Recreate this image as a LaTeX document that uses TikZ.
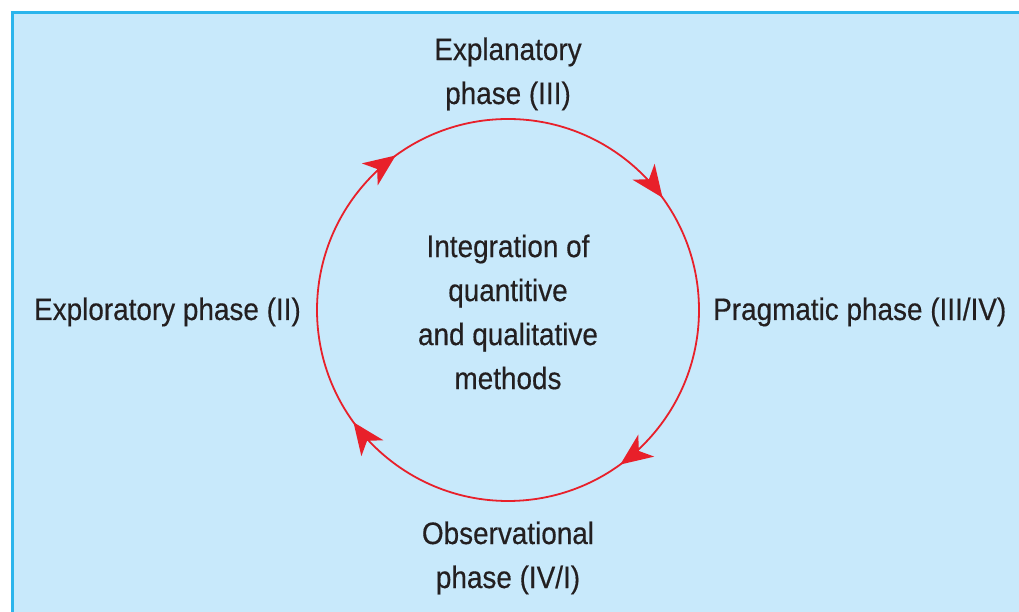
\documentclass[tikz,border=0pt]{standalone}
\usepackage{fontspec}
\setmainfont{Liberation Sans}[FakeStretch=0.9, FakeBold=0.4]
\usetikzlibrary{arrows.meta,decorations.markings}
\definecolor{panelfill}{HTML}{C8E9FB}
\definecolor{paneledge}{HTML}{2BB5EC}
\definecolor{cyclered}{HTML}{E8202A}
\definecolor{labeltext}{HTML}{231F20}
\tikzset{
  cycletip/.tip={Stealth[length=32pt, width=27pt, inset=9pt]},
  label/.style={font=\fontsize{31}{44}\selectfont, text=labeltext, align=center, inner sep=0pt},
  cycle/.style={draw=cyclered, line width=1.8pt,
    postaction={decorate, decoration={markings,
      mark=at position 0.15 with {\arrow[cyclered]{cycletip}},
      mark=at position 0.40 with {\arrow[cyclered]{cycletip}},
      mark=at position 0.65 with {\arrow[cyclered]{cycletip}},
      mark=at position 0.90 with {\arrow[cyclered]{cycletip}}}}}
}
\begin{document}
\begin{tikzpicture}[x=1pt, y=1pt]
  \useasboundingbox (0,0) rectangle (1019,612);
  % panel
  \fill[panelfill] (11,0) rectangle (1019,601);
  \draw[paneledge, line width=3.5pt] (12.5,0) -- (12.5,599.5) -- (1019,599.5);

  % the cycle, drawn clockwise from the top
  \coordinate (hub) at (508,302);
  \draw[cycle] (hub) ++(90:191) arc[start angle=90, end angle=-270, radius=191];

  % labels
  \node[label] (core) at (508,300) {Integration of\\quantitive\\and qualitative\\methods};
  \node[label] (expl) at (508,538) {Explanatory\\phase (III)};
  \node[label] (obs) at (508,54) {Observational\\phase (IV/I)};
  \node[label, anchor=base east] (explo) at (301,292) {Exploratory phase (II)};
  \node[label, anchor=base west] (prag) at (713,292) {Pragmatic phase (III/IV)};
\end{tikzpicture}
\end{document}
